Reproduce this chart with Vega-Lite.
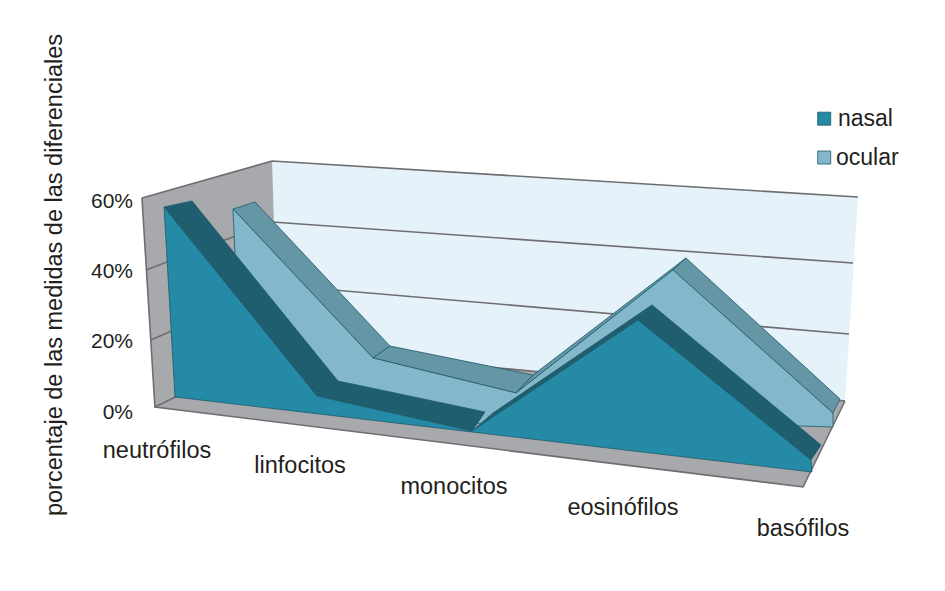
{"$schema":"https://vega.github.io/schema/vega-lite/v6.json","autosize":{"type":"fit","contains":"padding"},"width":945,"height":591,"padding":0,"background":"white","view":{"stroke":null},
"datasets":{
"paredes":[
{"p":"fondo","t":"fondo","i":0,"x":0.669,"y":70.57},{"p":"fondo","t":"fondo","i":1,"x":4.331,"y":60.29},{"p":"fondo","t":"fondo","i":2,"x":4.25,"y":2.0},{"p":"fondo","t":"fondo","i":3,"x":0.706,"y":17.43},
{"p":"lateral","t":"gris","i":0,"x":-0.144,"y":60},{"p":"lateral","t":"gris","i":1,"x":0.669,"y":70.57},{"p":"lateral","t":"gris","i":2,"x":0.706,"y":17.43},{"p":"lateral","t":"gris","i":3,"x":-0.063,"y":0.29},
{"p":"suelo","t":"gris","i":0,"x":-0.063,"y":0.29},{"p":"suelo","t":"gris","i":1,"x":0.706,"y":17.43},{"p":"suelo","t":"gris","i":2,"x":4.25,"y":2.0},{"p":"suelo","t":"gris","i":3,"x":3.988,"y":-22.57}],
"rejilla":[
{"g":"60","i":0,"x":-0.144,"y":60},{"g":"60","i":1,"x":0.669,"y":70.57},{"g":"60","i":2,"x":4.331,"y":60.29},
{"g":"40","i":0,"x":-0.119,"y":39.43},{"g":"40","i":1,"x":0.669,"y":53.14},{"g":"40","i":2,"x":4.3,"y":41.43},
{"g":"20","i":0,"x":-0.0875,"y":19.43},{"g":"20","i":1,"x":0.6875,"y":35.14},{"g":"20","i":2,"x":4.275,"y":21.14},
{"g":"0","i":0,"x":-0.063,"y":0.29},{"g":"0","i":1,"x":0.706,"y":17.43},{"g":"0","i":2,"x":4.25,"y":2.0},
{"g":"borde","i":0,"x":-0.144,"y":60},{"g":"borde","i":1,"x":-0.063,"y":0.29},{"g":"borde","i":2,"x":3.988,"y":-22.57},{"g":"borde","i":3,"x":4.25,"y":2.0}],
"caras":[
{"p":"o1","t":"ocular superior","i":0,"x":0.425,"y":56.86},{"p":"o1","t":"ocular superior","i":1,"x":0.5625,"y":58.86},{"p":"o1","t":"ocular superior","i":2,"x":1.406,"y":17.71},{"p":"o1","t":"ocular superior","i":3,"x":1.3,"y":14.29},{"p":"o1","t":"ocular superior","i":4,"x":0.425,"y":56.86},
{"p":"o2","t":"ocular superior","i":0,"x":1.3,"y":14.29},{"p":"o2","t":"ocular superior","i":1,"x":1.406,"y":17.71},{"p":"o2","t":"ocular superior","i":2,"x":2.3,"y":9.43},{"p":"o2","t":"ocular superior","i":3,"x":2.194,"y":4.29},{"p":"o2","t":"ocular superior","i":4,"x":1.3,"y":14.29},
{"p":"o3","t":"ocular superior","i":0,"x":2.194,"y":4.29},{"p":"o3","t":"ocular superior","i":1,"x":2.3,"y":9.43},{"p":"o3","t":"ocular superior","i":2,"x":3.256,"y":42.86},{"p":"o3","t":"ocular superior","i":3,"x":3.175,"y":39.43},{"p":"o3","t":"ocular superior","i":4,"x":2.194,"y":4.29},
{"p":"o4","t":"ocular superior","i":0,"x":3.175,"y":39.43},{"p":"o4","t":"ocular superior","i":1,"x":3.256,"y":42.86},{"p":"o4","t":"ocular superior","i":2,"x":4.219,"y":2.57},{"p":"o4","t":"ocular superior","i":3,"x":4.175,"y":-1.43},{"p":"o4","t":"ocular superior","i":4,"x":3.175,"y":39.43},
{"p":"of","t":"ocular","i":0,"x":0.425,"y":56.86},{"p":"of","t":"ocular","i":1,"x":1.3,"y":14.29},{"p":"of","t":"ocular","i":2,"x":2.194,"y":4.29},{"p":"of","t":"ocular","i":3,"x":3.175,"y":39.43},{"p":"of","t":"ocular","i":4,"x":4.175,"y":-1.43},{"p":"of","t":"ocular","i":5,"x":4.175,"y":-5.43},{"p":"of","t":"ocular","i":6,"x":3.969,"y":-5.14},{"p":"of","t":"ocular","i":7,"x":2.094,"y":-5.71},{"p":"of","t":"ocular","i":8,"x":0.469,"y":10.86},{"p":"of","t":"ocular","i":9,"x":0.425,"y":56.86},
{"p":"n1","t":"nasal superior","i":0,"x":-0.006,"y":57.43},{"p":"n1","t":"nasal superior","i":1,"x":0.169,"y":59.14},{"p":"n1","t":"nasal superior","i":2,"x":1.081,"y":7.71},{"p":"n1","t":"nasal superior","i":3,"x":0.95,"y":3.43},{"p":"n1","t":"nasal superior","i":4,"x":-0.006,"y":57.43},
{"p":"n2","t":"nasal superior","i":0,"x":0.95,"y":3.43},{"p":"n2","t":"nasal superior","i":1,"x":1.081,"y":7.71},{"p":"n2","t":"nasal superior","i":2,"x":2.0,"y":-1.14},{"p":"n2","t":"nasal superior","i":3,"x":1.919,"y":-6.57},{"p":"n2","t":"nasal superior","i":4,"x":0.95,"y":3.43},
{"p":"n3","t":"nasal superior","i":0,"x":1.919,"y":-6.57},{"p":"n3","t":"nasal superior","i":1,"x":2.05,"y":-1.43},{"p":"n3","t":"nasal superior","i":2,"x":3.044,"y":29.43},{"p":"n3","t":"nasal superior","i":3,"x":2.956,"y":25.14},{"p":"n3","t":"nasal superior","i":4,"x":1.919,"y":-6.57},
{"p":"n4","t":"nasal superior","i":0,"x":2.956,"y":25.14},{"p":"n4","t":"nasal superior","i":1,"x":3.044,"y":29.43},{"p":"n4","t":"nasal superior","i":2,"x":4.1,"y":-10.57},{"p":"n4","t":"nasal superior","i":3,"x":4.0375,"y":-14.86},{"p":"n4","t":"nasal superior","i":4,"x":2.956,"y":25.14},
{"p":"nf","t":"nasal","i":0,"x":-0.006,"y":57.43},{"p":"nf","t":"nasal","i":1,"x":0.95,"y":3.43},{"p":"nf","t":"nasal","i":2,"x":1.919,"y":-6.57},{"p":"nf","t":"nasal","i":3,"x":2.956,"y":25.14},{"p":"nf","t":"nasal","i":4,"x":4.0375,"y":-14.86},{"p":"nf","t":"nasal","i":5,"x":4.044,"y":-18.29},{"p":"nf","t":"nasal","i":6,"x":0.0625,"y":3.14},{"p":"nf","t":"nasal","i":7,"x":-0.006,"y":57.43}],
"leyenda":[{"t":"nasal","x":4.12,"y":82.66},{"t":"ocular","x":4.12,"y":71.57}],
"textosLeyenda":[{"label":"nasal","x":4.206,"y":80.57},{"label":"ocular","x":4.194,"y":69.43}],
"categorias":[{"label":"neutrófilos","x":-0.05,"y":-14.29},{"label":"linfocitos","x":0.844,"y":-18.57},{"label":"monocitos","x":1.806,"y":-24.57},{"label":"eosinófilos","x":2.8625,"y":-30.57},{"label":"basófilos","x":3.9875,"y":-36.57}],
"ticks":[{"label":"60%","x":-0.2,"y":57.14},{"label":"40%","x":-0.2,"y":37.14},{"label":"20%","x":-0.2,"y":17.14},{"label":"0%","x":-0.2,"y":-3.14}],
"titulo":[{"label":"porcentaje de las medidas de las diferenciales","x":-0.644,"y":38}]
},
"layer":[
{"data":{"name":"paredes"},"mark":{"type":"line","strokeWidth":0,"clip":true},"encoding":{"x":{"field":"x","type":"quantitative","scale":{"domain":[-1.03125,4.875],"nice":false,"zero":false},"axis":null},"y":{"field":"y","type":"quantitative","scale":{"domain":[-52.2857,116.571],"nice":false,"zero":false},"axis":null},"detail":{"field":"p"},"order":{"field":"i"},"fill":{"field":"t","type":"nominal","legend":null,"scale":{"domain":["fondo","gris","nasal","nasal superior","ocular","ocular superior"],"range":["#E6F2F9","#A7A9AC","#248AA6","#1F5E6E","#82B8CA","#6496A6"]}}}},
{"data":{"name":"rejilla"},"mark":{"type":"line","stroke":"#6D6E71","strokeWidth":1.6},"encoding":{"x":{"field":"x","type":"quantitative"},"y":{"field":"y","type":"quantitative"},"detail":{"field":"g"},"order":{"field":"i"}}},
{"data":{"name":"caras"},"mark":{"type":"line","stroke":"#1D5A6A","strokeWidth":0.8},"encoding":{"x":{"field":"x","type":"quantitative"},"y":{"field":"y","type":"quantitative"},"detail":{"field":"p"},"order":{"field":"i"},"fill":{"field":"t","type":"nominal","legend":null}}},
{"data":{"name":"leyenda"},"mark":{"type":"point","shape":"square","filled":true,"size":170,"stroke":"#1D5A6A","strokeWidth":0.8,"opacity":1},"encoding":{"x":{"field":"x","type":"quantitative"},"y":{"field":"y","type":"quantitative"},"fill":{"field":"t","type":"nominal","legend":null}}},
{"data":{"name":"textosLeyenda"},"mark":{"type":"text","align":"left","baseline":"alphabetic","font":"Liberation Sans","fontSize":23,"fill":"#231F20"},"encoding":{"x":{"field":"x","type":"quantitative"},"y":{"field":"y","type":"quantitative"},"text":{"field":"label"}}},
{"data":{"name":"categorias"},"mark":{"type":"text","align":"center","baseline":"alphabetic","font":"Liberation Sans","fontSize":23.5,"fill":"#231F20"},"encoding":{"x":{"field":"x","type":"quantitative"},"y":{"field":"y","type":"quantitative"},"text":{"field":"label"}}},
{"data":{"name":"ticks"},"mark":{"type":"text","align":"right","baseline":"alphabetic","font":"Liberation Sans","fontSize":21,"fill":"#231F20"},"encoding":{"x":{"field":"x","type":"quantitative"},"y":{"field":"y","type":"quantitative"},"text":{"field":"label"}}},
{"data":{"name":"titulo"},"mark":{"type":"text","align":"center","baseline":"alphabetic","angle":270,"font":"Liberation Sans","fontSize":23.5,"fill":"#231F20"},"encoding":{"x":{"field":"x","type":"quantitative"},"y":{"field":"y","type":"quantitative"},"text":{"field":"label"}}}
]}
